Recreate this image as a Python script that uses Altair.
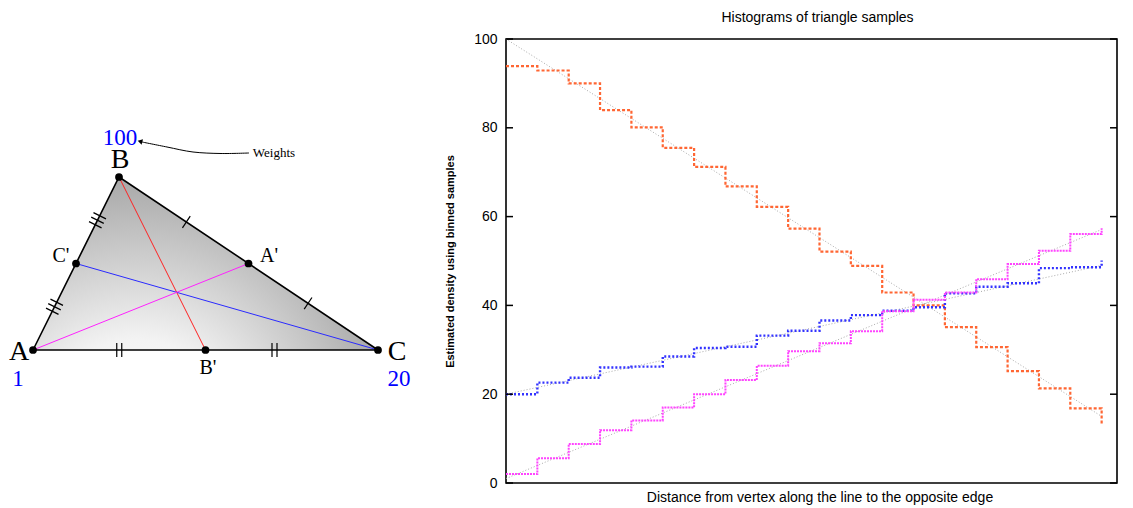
import math
import altair as alt
import pandas as pd

# ---------------- Right panel data (histogram steps) ----------------
bin_left = [0.00, 0.05, 0.10, 0.15, 0.20, 0.25, 0.30, 0.35, 0.40, 0.45,
            0.50, 0.55, 0.60, 0.65, 0.70, 0.75, 0.80, 0.85, 0.90]
bin_end = 0.95

orange_vals = [93.9, 92.9, 90.0, 84.0, 80.1, 75.5, 71.2, 66.8, 62.2, 57.3,
               52.1, 48.9, 42.9, 40.0, 35.1, 30.6, 25.2, 21.3, 16.8]
orange_last = 13.4
blue_vals = [20.0, 22.6, 23.7, 26.0, 26.2, 28.5, 30.4, 30.7, 33.2, 34.3,
             36.6, 37.8, 38.8, 39.6, 42.7, 44.2, 45.0, 48.4, 48.6]
blue_last = 50.1
pink_vals = [2.0, 5.6, 8.8, 11.9, 14.1, 17.0, 20.0, 23.2, 26.4, 29.7,
             31.5, 34.2, 38.7, 41.3, 42.9, 45.9, 49.3, 52.3, 56.1]
pink_last = 57.4

series_names = ["B-B'", "C-C'", "A-A'"]
series_colors = ["#ff6633", "#3333ff", "#ff44ff"]
series_dash = [[3, 2], [2, 2], [2, 1]]
series_width = [2.2, 2.4, 2.0]

ref_x = [0.0, 0.95]
ref_start = [100.0, 20.0, 1.0]
ref_end = [15.0, 49.0, 57.1]

y_ticks = [0, 20, 40, 60, 80, 100]
x_max = 0.9745   # visible part of the 0..1 distance axis

# ---------------- Left panel data (triangle diagram) ----------------
vert_names = ["A", "B", "C"]
vert_x = [24, 110, 369]
vert_y = [133, 306, 133]

label_text = ["A", "B", "C", "A'", "B'", "C'"]
label_x = [10, 111, 388, 260, 199, 52]
label_y = [131, 323, 131, 227, 115, 227]
label_size = [28, 28, 28, 20, 20, 20]

weight_text = ["1", "100", "20"]
weight_x = [9, 111, 390]
weight_y = [104, 345, 104]

note_text = ["Weights"]
note_x = [265]
note_y = [330]

arrow_x = [240, 212, 184, 158, 133]
arrow_y = [330, 329.5, 331, 336, 341]

W1 = 434
H = 444
W2 = 611

# ---------------- Left panel ----------------
xs = alt.Scale(domain=[0, W1], nice=False, zero=False)
ys = alt.Scale(domain=[0, H], nice=False, zero=False)
def LX(f="x"):
    return alt.X(f"{f}:Q", scale=xs, axis=None)
def LY(f="y"):
    return alt.Y(f"{f}:Q", scale=ys, axis=None)

A = (vert_x[0], vert_y[0]); B = (vert_x[1], vert_y[1]); C = (vert_x[2], vert_y[2])
def mid(P, Q):
    return ((P[0] + Q[0]) / 2, (P[1] + Q[1]) / 2)
Ap, Bp, Cp = mid(B, C), mid(A, C), mid(A, B)

tri_df = pd.DataFrame({"x": vert_x, "y": vert_y, "y2": [A[1]] * 3})
grad = alt.RadialGradient(
    gradient="radial",
    stops=[alt.GradientStop(color="#ffffff", offset=0),
           alt.GradientStop(color="#f3f3f3", offset=0.28),
           alt.GradientStop(color="#808080", offset=1)],
    x1=0.3, y1=1.0, r1=0, x2=0.3, y2=1.0, r2=1.0)
area = alt.Chart(tri_df).mark_area(color=grad, interpolate="linear").encode(
    x=LX(), y=LY(), y2=alt.Y2("y2:Q"))

edge_df = pd.DataFrame({"x": [A[0], B[0], C[0], A[0]],
                        "y": [A[1], B[1], C[1], A[1]], "o": [0, 1, 2, 3]})
edges = alt.Chart(edge_df).mark_line(color="black", strokeWidth=1.6).encode(
    x=LX(), y=LY(), order="o:Q")

med_df = pd.DataFrame({
    "x": [B[0], C[0], A[0]], "y": [B[1], C[1], A[1]],
    "x2": [Bp[0], Cp[0], Ap[0]], "y2": [Bp[1], Cp[1], Ap[1]],
    "c": ["#ff2222", "#2a2aff", "#ff22ff"]})
medians = alt.Chart(med_df).mark_rule(strokeWidth=1).encode(
    x=LX(), y=LY(), x2="x2:Q", y2="y2:Q", color=alt.Color("c:N", scale=None))

def side_ticks(P, Q, ts, count, spacing, half):
    dx, dy = Q[0] - P[0], Q[1] - P[1]
    L = math.hypot(dx, dy)
    ux, uy = dx / L, dy / L
    nx, ny = -uy, ux
    out = []
    for t in ts:
        mx, my = P[0] + t * dx, P[1] + t * dy
        for k in range(count):
            off = (k - (count - 1) / 2) * spacing
            cx, cy = mx + ux * off, my + uy * off
            out.append({"x": cx - nx * half, "y": cy - ny * half,
                        "x2": cx + nx * half, "y2": cy + ny * half})
    return out

tk = (side_ticks(A, B, [0.25, 0.75], 3, 5, 7)
      + side_ticks(B, C, [0.26, 0.73], 1, 5, 7)
      + side_ticks(A, C, [0.25, 0.70], 2, 5, 7))
ticks_l = alt.Chart(pd.DataFrame(tk)).mark_rule(color="black", strokeWidth=1.2).encode(
    x=LX(), y=LY(), x2="x2:Q", y2="y2:Q")

dot_df = pd.DataFrame({"x": [A[0], B[0], C[0], Ap[0], Bp[0], Cp[0]],
                       "y": [A[1], B[1], C[1], Ap[1], Bp[1], Cp[1]]})
dots = alt.Chart(dot_df).mark_circle(color="black", size=60, opacity=1).encode(
    x=LX(), y=LY())

lab_df = pd.DataFrame({"t": label_text, "x": label_x, "y": label_y, "s": label_size})
labels = alt.Chart(lab_df).mark_text(font="Liberation Serif", baseline="middle",
                                     align="center", color="black").encode(
    x=LX(), y=LY(), text="t:N", size=alt.Size("s:Q", scale=None))

w_df = pd.DataFrame({"t": weight_text, "x": weight_x, "y": weight_y})
weights = alt.Chart(w_df).mark_text(font="Liberation Serif", baseline="middle",
                                    align="center", color="#0000ff", fontSize=23).encode(
    x=LX(), y=LY(), text="t:N")

n_df = pd.DataFrame({"t": note_text, "x": note_x, "y": note_y})
note = alt.Chart(n_df).mark_text(font="Liberation Serif", baseline="middle",
                                 align="center", color="black", fontSize=13).encode(
    x=LX(), y=LY(), text="t:N")

arr_df = pd.DataFrame({"x": arrow_x, "y": arrow_y})
arrow = alt.Chart(arr_df).mark_line(color="black", strokeWidth=1,
                                    interpolate="cardinal").encode(x=LX(), y=LY())
head_df = pd.DataFrame({"x": [arrow_x[-1] - 2], "y": [arrow_y[-1] + 0.6]})
head = alt.Chart(head_df).mark_point(shape="triangle-left", filled=True, size=30,
                                     angle=15, color="black", opacity=1).encode(
    x=LX(), y=LY())

left = alt.layer(area, medians, edges, ticks_l, arrow, head, dots, labels,
                 weights, note).properties(
    width=W1, height=H, view=alt.ViewBackground(strokeOpacity=0))

# ---------------- Right panel ----------------
rows = []
for name, vals, last in zip(series_names, [orange_vals, blue_vals, pink_vals],
                            [orange_last, blue_last, pink_last]):
    for x, v in zip(bin_left, vals):
        rows.append({"s": name, "x": x, "v": v})
    rows.append({"s": name, "x": bin_end, "v": last})
hist_df = pd.DataFrame(rows)

ref_rows = []
for name, a, b in zip(series_names, ref_start, ref_end):
    ref_rows.append({"s": name, "x": ref_x[0], "v": a})
    ref_rows.append({"s": name, "x": ref_x[1], "v": b})
ref_df = pd.DataFrame(ref_rows)

rx = alt.Scale(domain=[0, x_max], nice=False, zero=False)
ry = alt.Scale(domain=[0, 100], nice=False)
xaxis = alt.Axis(labels=False, ticks=False, domain=False, grid=False,
                 title="Distance from vertex along the line to the opposite edge",
                 titleFont="Liberation Sans", titleFontSize=14,
                 titleFontWeight="normal", titleColor="black", titlePadding=7,
                 titleX=313.5)
yaxis = alt.Axis(values=y_ticks, ticks=False, domain=False, grid=False,
                 labelFont="Liberation Sans", labelFontSize=14, labelColor="black",
                 labelPadding=9, title="Estimated density using binned samples",
                 titleFont="Liberation Sans", titleFontSize=11,
                 titleFontWeight="bold", titleColor="black", titlePadding=18)
def RX():
    return alt.X("x:Q", scale=rx, axis=xaxis)
def RY():
    return alt.Y("v:Q", scale=ry, axis=yaxis)

ref = alt.Chart(ref_df).mark_line(color="#aaaaaa", strokeWidth=1,
                                  strokeDash=[1, 2]).encode(
    x=RX(), y=RY(), detail="s:N")

hist_layers = []
for name, col, dash, w in zip(series_names, series_colors, series_dash, series_width):
    hist_layers.append(
        alt.Chart(hist_df).transform_filter(alt.datum.s == name).mark_line(
            color=col, strokeDash=dash, strokeWidth=w, interpolate="step-after"
        ).encode(x=RX(), y=RY()))

tick_df = pd.DataFrame({"v": y_ticks})
ticks_left = alt.Chart(tick_df).mark_rule(color="black", strokeWidth=1.5).encode(
    y=RY(), x=alt.value(0), x2=alt.value(7))
ticks_right = alt.Chart(tick_df).mark_rule(color="black", strokeWidth=1.5).encode(
    y=RY(), x=alt.value(W2 - 7), x2=alt.value(W2))

right = alt.layer(ref, *hist_layers, ticks_left, ticks_right).properties(
    width=W2, height=H,
    title=alt.TitleParams("Histograms of triangle samples", font="Liberation Sans",
                          fontSize=14, fontWeight="normal", color="black", offset=7,
                          anchor="middle", frame="group", dx=6),
    view=alt.ViewBackground(stroke="black", strokeWidth=1.6))

chart = alt.hconcat(left, right, spacing=0).properties(
    padding={"left": 0, "top": 2, "right": 0, "bottom": 0}).configure(
    background="white")

chart.save("out.html", embed_options={"renderer": "svg", "actions": False})
